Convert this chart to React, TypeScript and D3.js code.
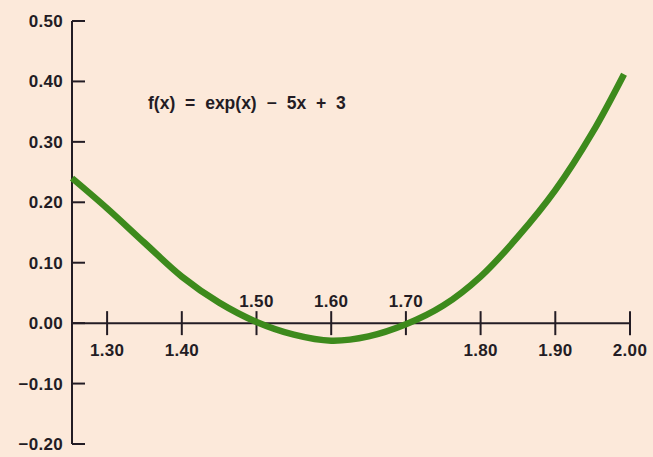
import { useEffect, useRef } from "react";
import * as d3 from "d3";

// curve
const curveX = [1.253, 1.3, 1.35, 1.4, 1.45, 1.5, 1.55, 1.6, 1.65, 1.7, 1.75, 1.8, 1.85, 1.9, 1.95, 1.992];
const curveY = [0.24, 0.19, 0.133, 0.077, 0.034, 0.002, -0.019, -0.029, -0.022, -0.002, 0.029, 0.077, 0.143, 0.22, 0.316, 0.412];

const xTicks = [1.3, 1.4, 1.5, 1.6, 1.7, 1.8, 1.9, 2.0];
const xTicksAbove = [1.5, 1.6, 1.7];
const yTicks = [0.5, 0.4, 0.3, 0.2, 0.1, 0.0, -0.1, -0.2];

const formulaLabel = "f(x) = exp(x) \u2212 5x + 3";

function FunctionChart() {
  const ref = useRef<SVGSVGElement | null>(null);

  useEffect(() => {
    if (!ref.current) {
      return;
    }

    const width = 653;
    const height = 457;
    const ink = "#231c24";
    const font = "'Liberation Sans', Arial, sans-serif";

    const svg = d3.select(ref.current);
    svg.selectAll("*").remove();
    svg.attr("viewBox", `0 0 ${width} ${height}`);

    const x = d3.scaleLinear().domain([1.253, 2.0]).range([72, 630]);
    const y = d3.scaleLinear().domain([-0.2, 0.5]).range([444, 21]);

    svg.append("rect").attr("width", width).attr("height", height).attr("fill", "#fce9da");

    // y axis
    svg
      .append("line")
      .attr("x1", x(1.253))
      .attr("x2", x(1.253))
      .attr("y1", y(0.5))
      .attr("y2", y(-0.2))
      .attr("stroke", ink)
      .attr("stroke-width", 2);

    svg
      .append("g")
      .selectAll("line")
      .data(yTicks)
      .join("line")
      .attr("x1", x(1.253))
      .attr("x2", x(1.253) + 13)
      .attr("y1", (d) => y(d))
      .attr("y2", (d) => y(d))
      .attr("stroke", ink)
      .attr("stroke-width", 2);

    svg
      .append("g")
      .selectAll("text")
      .data(yTicks)
      .join("text")
      .attr("x", 63)
      .attr("y", (d) => y(d) + 6)
      .attr("text-anchor", "end")
      .attr("fill", ink)
      .style("font-family", font)
      .style("font-size", "17px")
      .style("font-weight", "700")
      .style("letter-spacing", "0.3px")
      .text((d) => (d < 0 ? "\u2212" + d3.format(".2f")(-d) : d3.format(".2f")(d)));

    // x axis along zero
    svg
      .append("line")
      .attr("x1", x(1.253))
      .attr("x2", x(2.0))
      .attr("y1", y(0))
      .attr("y2", y(0))
      .attr("stroke", ink)
      .attr("stroke-width", 2);

    svg
      .append("g")
      .selectAll("line")
      .data(xTicks)
      .join("line")
      .attr("x1", (d) => x(d))
      .attr("x2", (d) => x(d))
      .attr("y1", y(0) - 12)
      .attr("y2", y(0) + 12)
      .attr("stroke", ink)
      .attr("stroke-width", 2);

    svg
      .append("g")
      .selectAll("text")
      .data(xTicks)
      .join("text")
      .attr("x", (d) => x(d))
      .attr("y", (d) => (xTicksAbove.includes(d) ? y(0) - 16 : y(0) + 33))
      .attr("text-anchor", "middle")
      .attr("fill", ink)
      .style("font-family", font)
      .style("font-size", "17px")
      .style("font-weight", "700")
      .style("letter-spacing", "0.3px")
      .text((d) => d3.format(".2f")(d));

    // curve
    const points = curveX.map((v, i) => [v, curveY[i]] as [number, number]);
    const line = d3
      .line<[number, number]>()
      .x((d) => x(d[0]))
      .y((d) => y(d[1]))
      .curve(d3.curveCatmullRom);

    svg
      .append("path")
      .datum(points)
      .attr("fill", "none")
      .attr("stroke", "#3d8a1c")
      .attr("stroke-width", 6.5)
      .attr("d", line);

    svg
      .append("text")
      .attr("x", 148)
      .attr("y", 109)
      .attr("fill", ink)
      .style("font-family", font)
      .style("font-size", "17.5px")
      .style("font-weight", "700")
      .style("word-spacing", "5px")
      .text(formulaLabel);
  }, []);

  return <svg ref={ref} width={653} height={457} style={{ display: "block" }} />;
}

export default function App() {
  return (
    <div style={{ position: "fixed", left: 0, top: 0, width: 653, height: 457 }}>
      <FunctionChart />
    </div>
  );
}
